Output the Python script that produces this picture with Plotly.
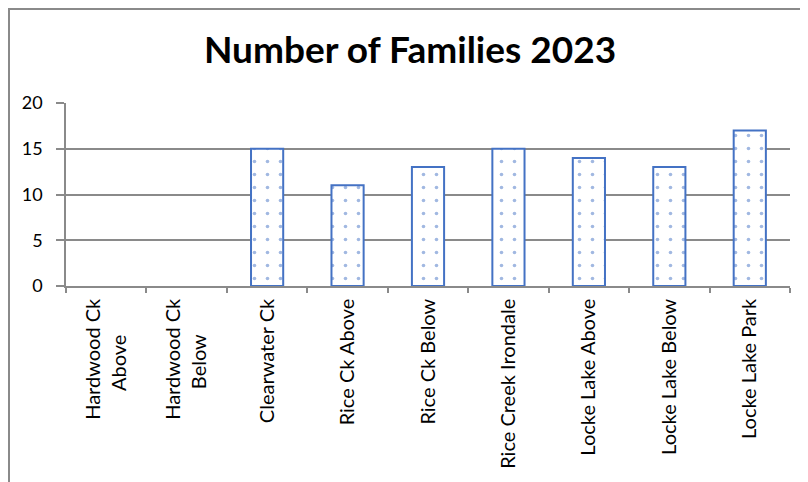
import plotly.graph_objects as go

categories = ["Hardwood Ck Above", "Hardwood Ck Below", "Clearwater Ck", "Rice Ck Above",
              "Rice Ck Below", "Rice Creek Irondale", "Locke Lake Above", "Locke Lake Below",
              "Locke Lake Park"]
families = [0, 0, 15, 11, 13, 15, 14, 13, 17]
y_ticks = [0, 5, 10, 15, 20]

BLUE = "#4472C4"
GRAY = "#8a8a8a"
FONT = "Lato, Carlito, 'Liberation Sans', sans-serif"


def wrap_label(name):
    # Long Hardwood names wrap on two lines, second line centred under the first
    if name.startswith("Hardwood Ck "):
        first, second = "Hardwood Ck", name[len("Hardwood Ck "):]
        return first + "<br>" + second + "\u00a0" * 7
    return name


tick_text = [wrap_label(c) for c in categories]

# page has an 8px body margin; figure is placed at (8, 8)
OFF = 8
W, H = 808 - OFF, 482 - OFF
ML, MT = 66 - OFF, 103 - OFF
PR, PB = 790 - OFF, 286 - OFF
MR, MB = W - PR, H - PB
PW, PH = PR - ML, PB - MT

fig = go.Figure(go.Bar(
    x=categories, y=families,
    marker=dict(
        color="white",
        line=dict(color=BLUE, width=[2 if v > 0 else 0 for v in families]),
        pattern=dict(shape=".", fgcolor=BLUE, bgcolor="white", size=13, solidity=0.06),
    ),
))

fig.update_layout(
    width=W, height=H,
    margin=dict(l=ML, r=MR, t=MT, b=MB, autoexpand=False),
    paper_bgcolor="white", plot_bgcolor="white",
    bargap=0.6,
    showlegend=False,
    font=dict(family=FONT, color="black"),
    title=dict(text="<b>Number of Families 2023</b>", x=(410 - OFF) / W, y=1 - (50 - OFF) / H,
               xanchor="center", yanchor="middle", xref="container", yref="container",
               font=dict(size=37, family=FONT, color="black")),
    shapes=[dict(type="rect", xref="paper", yref="paper",
                 x0=(1 - ML) / PW, x1=2.0, y0=-3.0, y1=1 + (MT - 1) / PH,
                 line=dict(color=GRAY, width=2), fillcolor="rgba(0,0,0,0)", layer="below")],
)

fig.update_yaxes(range=[0, 20], tickvals=y_ticks, showgrid=True, gridcolor=GRAY, gridwidth=1.5,
                 showline=True, linecolor=GRAY, linewidth=1.5, ticks="outside", ticklen=8,
                 tickcolor=GRAY, tickwidth=1.5, tickfont=dict(size=18, color="black"),
                 ticklabelstandoff=10, zeroline=False, fixedrange=True)
fig.update_xaxes(tickmode="array", tickvals=categories, ticktext=tick_text,
                 showline=True, linecolor=GRAY, linewidth=1.5, ticks="outside", ticklen=5,
                 tickcolor=GRAY, tickwidth=1.5, tickson="boundaries", tickangle=-90,
                 tickfont=dict(size=20, color="black"), ticklabelstandoff=3, showgrid=False)

fig.write_html("out.html")
